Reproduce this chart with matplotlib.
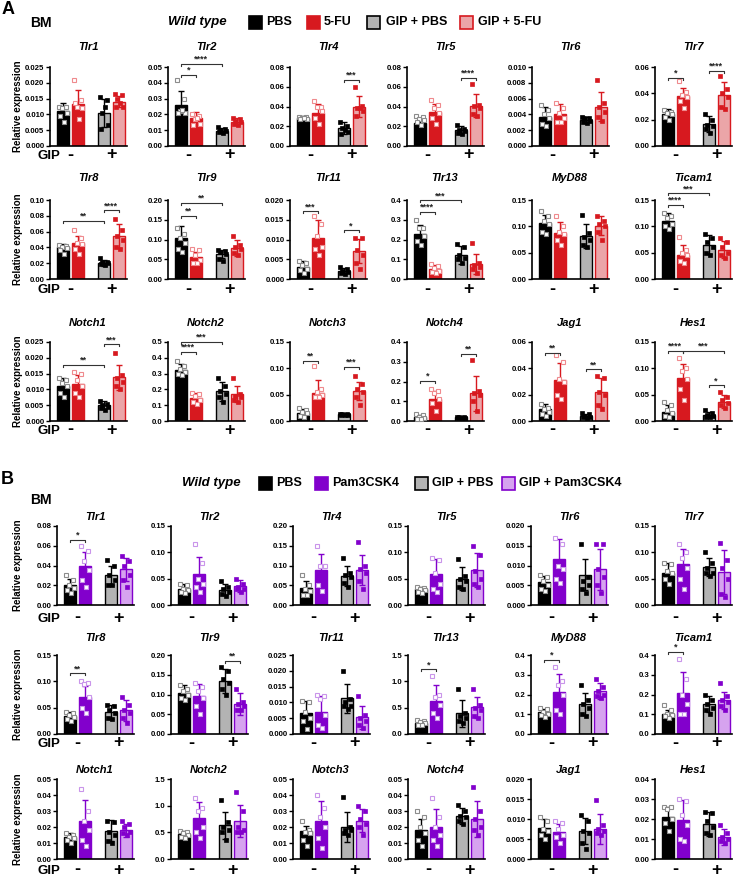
import matplotlib
matplotlib.use('Agg')
import matplotlib.pyplot as plt
from matplotlib.patches import Rectangle
import numpy as np

plt.rcParams['font.family'] = ['Liberation Sans', 'DejaVu Sans']
plt.rcParams['font.weight'] = 'bold'

genes = ['Tlr1', 'Tlr2', 'Tlr4', 'Tlr5', 'Tlr6', 'Tlr7',
         'Tlr8', 'Tlr9', 'Tlr11', 'Tlr13', 'MyD88', 'Ticam1',
         'Notch1', 'Notch2', 'Notch3', 'Notch4', 'Jag1', 'Hes1']

a_groups = ['PBS', '5-FU', 'GIP + PBS', 'GIP + 5-FU']
b_groups = ['PBS', 'Pam3CSK4', 'GIP + PBS', 'GIP + Pam3CSK4']

# ---- panel A (5-FU) ----
a_ymax = [0.025, 0.05, 0.08, 0.08, 0.010, 0.06,
          0.10, 0.20, 0.020, 0.4, 0.15, 0.15,
          0.025, 0.5, 0.15, 0.4, 0.06, 0.15]
a_step = [0.005, 0.01, 0.02, 0.02, 0.002, 0.02,
          0.02, 0.05, 0.005, 0.1, 0.05, 0.05,
          0.005, 0.1, 0.05, 0.1, 0.02, 0.05]
a_mean = [[0.011, 0.0134, 0.0105, 0.014],
          [0.026, 0.0175, 0.0098, 0.0155],
          [0.028, 0.033, 0.0185, 0.040],
          [0.0235, 0.034, 0.016, 0.041],
          [0.0037, 0.0041, 0.0033, 0.0050],
          [0.024, 0.038, 0.017, 0.0385],
          [0.040, 0.046, 0.020, 0.054],
          [0.105, 0.055, 0.063, 0.078],
          [0.0031, 0.0104, 0.0021, 0.0071],
          [0.228, 0.051, 0.122, 0.076],
          [0.106, 0.088, 0.081, 0.101],
          [0.110, 0.046, 0.065, 0.056],
          [0.011, 0.0116, 0.005, 0.0138],
          [0.323, 0.146, 0.188, 0.169],
          [0.016, 0.054, 0.0126, 0.057],
          [0.020, 0.110, 0.018, 0.140],
          [0.0088, 0.031, 0.004, 0.022],
          [0.018, 0.081, 0.012, 0.037]]
a_sd = [[0.0025, 0.0042, 0.0045, 0.0018],
        [0.0085, 0.004, 0.0015, 0.002],
        [0.002, 0.010, 0.006, 0.011],
        [0.004, 0.009, 0.004, 0.012],
        [0.0013, 0.0012, 0.0004, 0.0018],
        [0.004, 0.006, 0.006, 0.010],
        [0.004, 0.009, 0.004, 0.015],
        [0.028, 0.013, 0.010, 0.020],
        [0.0015, 0.0045, 0.0007, 0.003],
        [0.045, 0.018, 0.045, 0.05],
        [0.015, 0.02, 0.023, 0.018],
        [0.015, 0.018, 0.018, 0.016],
        [0.0025, 0.003, 0.0012, 0.004],
        [0.04, 0.03, 0.06, 0.05],
        [0.006, 0.023, 0.001, 0.018],
        [0.01, 0.04, 0.003, 0.09],
        [0.004, 0.013, 0.0015, 0.011],
        [0.013, 0.027, 0.005, 0.012]]
a_pts = [
    [[0.0125, 0.0125, 0.012, 0.0105, 0.0095, 0.0075], [0.021, 0.0145, 0.0125, 0.012, 0.0135, 0.0085],
     [0.0155, 0.0145, 0.0105, 0.0065, 0.0055, 0.0125], [0.0165, 0.016, 0.015, 0.0125, 0.0125, 0.0135]],
    [[0.042, 0.030, 0.022, 0.021, 0.021, 0.023], [0.020, 0.019, 0.017, 0.014, 0.013, 0.018],
     [0.012, 0.011, 0.010, 0.0095, 0.009, 0.008], [0.018, 0.017, 0.016, 0.015, 0.014, 0.013]],
    [[0.029, 0.029, 0.028, 0.027, 0.027, 0.028], [0.046, 0.040, 0.039, 0.035, 0.028, 0.022],
     [0.024, 0.020, 0.018, 0.014, 0.012, 0.016], [0.060, 0.041, 0.038, 0.035, 0.030, 0.038]],
    [[0.030, 0.029, 0.027, 0.026, 0.024, 0.021], [0.047, 0.042, 0.038, 0.033, 0.028, 0.022],
     [0.021, 0.017, 0.016, 0.015, 0.013, 0.012], [0.063, 0.042, 0.041, 0.038, 0.032, 0.030]],
    [[0.0052, 0.0045, 0.0041, 0.0036, 0.0028, 0.0025], [0.0055, 0.0048, 0.0042, 0.0035, 0.0031, 0.0030],
     [0.0037, 0.0036, 0.0035, 0.0032, 0.0030, 0.0029], [0.0083, 0.0055, 0.0049, 0.0043, 0.0037, 0.0032]],
    [[0.027, 0.026, 0.025, 0.024, 0.022, 0.020], [0.049, 0.041, 0.039, 0.037, 0.034, 0.029],
     [0.024, 0.020, 0.016, 0.015, 0.013, 0.010], [0.053, 0.043, 0.040, 0.037, 0.030, 0.028]],
    [[0.043, 0.042, 0.041, 0.039, 0.037, 0.032], [0.062, 0.052, 0.046, 0.044, 0.038, 0.032],
     [0.027, 0.022, 0.021, 0.020, 0.019, 0.018], [0.076, 0.062, 0.055, 0.050, 0.041, 0.038]],
    [[0.128, 0.115, 0.103, 0.090, 0.075, 0.068], [0.075, 0.073, 0.062, 0.048, 0.040, 0.040],
     [0.074, 0.070, 0.068, 0.063, 0.050, 0.045], [0.110, 0.085, 0.080, 0.075, 0.065, 0.062]],
    [[0.0045, 0.0040, 0.0035, 0.0025, 0.0022, 0.0015], [0.0160, 0.0140, 0.0110, 0.0080, 0.0075, 0.0060],
     [0.0030, 0.0025, 0.0020, 0.0018, 0.0015, 0.0013], [0.0105, 0.0103, 0.0073, 0.0060, 0.0040, 0.0025]],
    [[0.30, 0.26, 0.26, 0.22, 0.19, 0.17], [0.078, 0.065, 0.055, 0.040, 0.035, 0.030],
     [0.175, 0.160, 0.120, 0.105, 0.100, 0.080], [0.180, 0.080, 0.070, 0.060, 0.050, 0.030]],
    [[0.130, 0.120, 0.110, 0.105, 0.090, 0.085], [0.120, 0.100, 0.090, 0.085, 0.075, 0.065],
     [0.122, 0.088, 0.080, 0.075, 0.065, 0.060], [0.120, 0.110, 0.105, 0.100, 0.090, 0.075]],
    [[0.125, 0.120, 0.115, 0.105, 0.100, 0.095], [0.080, 0.055, 0.050, 0.045, 0.035, 0.030],
     [0.085, 0.078, 0.070, 0.060, 0.050, 0.045], [0.077, 0.070, 0.060, 0.050, 0.045, 0.040]],
    [[0.0135, 0.013, 0.012, 0.011, 0.009, 0.0075], [0.0155, 0.015, 0.013, 0.011, 0.009, 0.0075],
     [0.0062, 0.0055, 0.005, 0.0045, 0.004, 0.0035], [0.0215, 0.0145, 0.0135, 0.0125, 0.011, 0.010]],
    [[0.38, 0.345, 0.33, 0.31, 0.30, 0.29], [0.175, 0.170, 0.160, 0.130, 0.120, 0.110],
     [0.27, 0.22, 0.19, 0.17, 0.15, 0.12], [0.27, 0.17, 0.16, 0.15, 0.13, 0.12]],
    [[0.025, 0.020, 0.018, 0.015, 0.010, 0.008], [0.104, 0.060, 0.055, 0.050, 0.045, 0.045],
     [0.014, 0.013, 0.0125, 0.012, 0.0115, 0.011], [0.085, 0.070, 0.060, 0.055, 0.045, 0.030]],
    [[0.035, 0.030, 0.020, 0.015, 0.010, 0.008], [0.160, 0.150, 0.140, 0.110, 0.090, 0.050],
     [0.022, 0.020, 0.018, 0.016, 0.015, 0.015], [0.310, 0.150, 0.140, 0.130, 0.100, 0.050]],
    [[0.013, 0.010, 0.009, 0.007, 0.005, 0.004], [0.050, 0.045, 0.032, 0.030, 0.020, 0.017],
     [0.006, 0.005, 0.004, 0.003, 0.0028, 0.0025], [0.034, 0.033, 0.022, 0.020, 0.012, 0.009]],
    [[0.036, 0.030, 0.020, 0.015, 0.010, 0.008], [0.120, 0.100, 0.095, 0.080, 0.060, 0.040],
     [0.020, 0.015, 0.012, 0.010, 0.008, 0.007], [0.055, 0.045, 0.040, 0.035, 0.030, 0.025]],
]
a_sig = [[], [(0, 1, '*', 0.045), (0, 2, '****', 0.052)], [(2, 3, '***', 0.067)],
         [(2, 3, '****', 0.069)], [], [(0, 1, '*', 0.052), (2, 3, '****', 0.057)],
         [(0, 2, '**', 0.074), (2, 3, '****', 0.087)], [(0, 1, '**', 0.16), (0, 2, '**', 0.193)],
         [(0, 1, '***', 0.0172), (2, 3, '*', 0.0123)], [(0, 1, '****', 0.341), (0, 2, '***', 0.398)],
         [], [(0, 1, '****', 0.1405), (0, 2, '***', 0.163)],
         [(0, 2, '**', 0.0178), (2, 3, '***', 0.0243)], [(0, 1, '****', 0.439), (0, 2, '***', 0.502)],
         [(0, 1, '**', 0.114), (2, 3, '***', 0.103)], [(0, 1, '*', 0.203), (2, 3, '**', 0.341)],
         [(0, 1, '**', 0.0519), (2, 3, '**', 0.0393)],
         [(0, 1, '****', 0.133), (1, 3, '***', 0.133), (2, 3, '*', 0.068)]]

# ---- panel B (Pam3CSK4) ----
b_ymax = [0.08, 0.15, 0.20, 0.15, 0.020, 0.15,
          0.15, 0.20, 0.025, 1.5, 0.4, 0.4,
          0.05, 1.5, 0.05, 0.05, 0.020, 0.04]
b_step = [0.02, 0.05, 0.05, 0.05, 0.005, 0.05,
          0.05, 0.05, 0.005, 0.5, 0.1, 0.1,
          0.01, 0.5, 0.01, 0.01, 0.005, 0.01]
b_mean = [[0.020, 0.040, 0.030, 0.036],
          [0.031, 0.058, 0.029, 0.036],
          [0.042, 0.088, 0.074, 0.088],
          [0.030, 0.058, 0.050, 0.066],
          [0.0057, 0.0116, 0.0077, 0.009],
          [0.061, 0.077, 0.072, 0.063],
          [0.034, 0.071, 0.042, 0.045],
          [0.103, 0.096, 0.135, 0.077],
          [0.0067, 0.0071, 0.0113, 0.0053],
          [0.21, 0.63, 0.39, 0.51],
          [0.109, 0.213, 0.153, 0.217],
          [0.102, 0.21, 0.151, 0.17],
          [0.014, 0.024, 0.0176, 0.018],
          [0.47, 0.775, 0.63, 0.72],
          [0.0176, 0.024, 0.020, 0.024],
          [0.0183, 0.020, 0.027, 0.025],
          [0.0077, 0.0068, 0.007, 0.0075],
          [0.021, 0.0197, 0.0174, 0.011]]
b_sd = [[0.006, 0.014, 0.01, 0.012],
        [0.008, 0.034, 0.01, 0.012],
        [0.02, 0.04, 0.026, 0.038],
        [0.004, 0.03, 0.022, 0.032],
        [0.0017, 0.005, 0.004, 0.0053],
        [0.018, 0.03, 0.017, 0.042],
        [0.007, 0.02, 0.013, 0.02],
        [0.02, 0.03, 0.03, 0.028],
        [0.0039, 0.005, 0.0045, 0.0037],
        [0.04, 0.3, 0.25, 0.2],
        [0.02, 0.09, 0.055, 0.04],
        [0.02, 0.105, 0.04, 0.045],
        [0.002, 0.013, 0.0065, 0.004],
        [0.06, 0.3, 0.26, 0.3],
        [0.003, 0.012, 0.0095, 0.007],
        [0.007, 0.011, 0.005, 0.011],
        [0.0022, 0.002, 0.0033, 0.0037],
        [0.005, 0.01, 0.006, 0.004]]
b_pts = [
    [[0.030, 0.025, 0.020, 0.017, 0.015, 0.012], [0.060, 0.055, 0.045, 0.035, 0.025, 0.018],
     [0.046, 0.040, 0.030, 0.025, 0.020, 0.020], [0.050, 0.045, 0.040, 0.030, 0.025, 0.018]],
    [[0.040, 0.038, 0.030, 0.028, 0.025, 0.022], [0.115, 0.080, 0.050, 0.040, 0.035, 0.025],
     [0.045, 0.035, 0.030, 0.025, 0.020, 0.018], [0.050, 0.040, 0.035, 0.030, 0.030, 0.025]],
    [[0.075, 0.050, 0.040, 0.035, 0.025, 0.025], [0.150, 0.100, 0.100, 0.100, 0.050, 0.035],
     [0.120, 0.080, 0.075, 0.070, 0.055, 0.045], [0.160, 0.100, 0.090, 0.080, 0.060, 0.040]],
    [[0.035, 0.032, 0.030, 0.028, 0.025, 0.022], [0.090, 0.085, 0.060, 0.040, 0.030, 0.025],
     [0.087, 0.055, 0.050, 0.045, 0.035, 0.030], [0.112, 0.095, 0.065, 0.050, 0.040, 0.035]],
    [[0.0075, 0.0070, 0.0060, 0.0050, 0.0040, 0.0035], [0.0170, 0.0155, 0.0100, 0.0090, 0.0065, 0.0055],
     [0.0155, 0.0070, 0.0060, 0.0050, 0.0040, 0.0030], [0.0155, 0.0155, 0.0090, 0.0070, 0.0050, 0.0030]],
    [[0.080, 0.078, 0.065, 0.060, 0.050, 0.040], [0.115, 0.100, 0.090, 0.070, 0.050, 0.030],
     [0.100, 0.080, 0.070, 0.060, 0.060, 0.055], [0.117, 0.085, 0.070, 0.050, 0.020, 0.015]],
    [[0.042, 0.040, 0.036, 0.032, 0.028, 0.025], [0.100, 0.097, 0.095, 0.070, 0.050, 0.040],
     [0.055, 0.053, 0.045, 0.040, 0.030, 0.028], [0.070, 0.055, 0.045, 0.040, 0.030, 0.020]],
    [[0.125, 0.115, 0.110, 0.100, 0.090, 0.085], [0.130, 0.120, 0.110, 0.090, 0.070, 0.050],
     [0.170, 0.160, 0.140, 0.130, 0.115, 0.100], [0.115, 0.080, 0.075, 0.070, 0.060, 0.060]],
    [[0.0105, 0.0100, 0.0070, 0.0050, 0.0040, 0.0015], [0.0125, 0.0120, 0.0110, 0.0060, 0.0030, 0.0020],
     [0.0200, 0.0110, 0.0100, 0.0090, 0.0090, 0.0080], [0.0120, 0.0060, 0.0050, 0.0040, 0.0030, 0.0020]],
    [[0.27, 0.25, 0.22, 0.20, 0.18, 0.17], [1.10, 0.75, 0.70, 0.55, 0.40, 0.30],
     [0.85, 0.40, 0.35, 0.30, 0.25, 0.20], [0.86, 0.55, 0.50, 0.45, 0.35, 0.30]],
    [[0.130, 0.125, 0.110, 0.100, 0.095, 0.085], [0.340, 0.270, 0.250, 0.200, 0.120, 0.100],
     [0.250, 0.170, 0.150, 0.130, 0.100, 0.090], [0.280, 0.240, 0.220, 0.200, 0.190, 0.180]],
    [[0.145, 0.120, 0.100, 0.095, 0.090, 0.080], [0.380, 0.280, 0.200, 0.150, 0.100, 0.100],
     [0.200, 0.170, 0.150, 0.130, 0.120, 0.100], [0.260, 0.190, 0.170, 0.160, 0.140, 0.120]],
    [[0.016, 0.015, 0.014, 0.013, 0.012, 0.010], [0.044, 0.030, 0.024, 0.018, 0.012, 0.008],
     [0.024, 0.023, 0.017, 0.015, 0.011, 0.010], [0.024, 0.022, 0.020, 0.017, 0.016, 0.015]],
    [[0.53, 0.50, 0.48, 0.45, 0.42, 0.40], [1.15, 0.95, 0.90, 0.60, 0.50, 0.40],
     [1.10, 0.70, 0.60, 0.55, 0.50, 0.35], [1.25, 0.90, 0.60, 0.55, 0.50, 0.50]],
    [[0.024, 0.018, 0.017, 0.016, 0.012, 0.008], [0.040, 0.032, 0.026, 0.020, 0.013, 0.007],
     [0.039, 0.020, 0.018, 0.018, 0.016, 0.015], [0.033, 0.030, 0.025, 0.022, 0.020, 0.015]],
    [[0.030, 0.026, 0.020, 0.016, 0.012, 0.008], [0.038, 0.026, 0.020, 0.015, 0.012, 0.008],
     [0.034, 0.030, 0.027, 0.026, 0.024, 0.022], [0.045, 0.030, 0.025, 0.020, 0.018, 0.015]],
    [[0.0105, 0.0095, 0.0075, 0.0070, 0.0060, 0.0050], [0.0095, 0.0090, 0.0075, 0.0060, 0.0055, 0.0040],
     [0.0110, 0.0095, 0.0070, 0.0065, 0.0040, 0.0025], [0.0148, 0.0085, 0.0075, 0.0070, 0.0065, 0.0060]],
    [[0.026, 0.026, 0.025, 0.020, 0.018, 0.014], [0.030, 0.029, 0.022, 0.017, 0.010, 0.009],
     [0.0235, 0.023, 0.019, 0.016, 0.013, 0.012], [0.017, 0.013, 0.011, 0.010, 0.009, 0.008]],
]
b_sig = [[(0, 1, '*', 0.066)], [], [], [], [], [],
         [(0, 1, '**', 0.115)], [(2, 3, '**', 0.185)], [], [(0, 1, '*', 1.23)],
         [(0, 1, '*', 0.375)], [(0, 1, '*', 0.415)],
         [], [], [], [], [], []]

W, H = 744, 877
fig = plt.figure(figsize=(W / 100, H / 100), dpi=100)

xs = [0, 1, 2.7, 3.7]
offs = [-0.24, 0.22, -0.08, 0.26, -0.2, 0.06]


def fx(px):
    return px / W


def fy(py):
    return 1 - py / H


def draw_panel(cols, rows, title_y, gip_y, ymax, step, mean, sd, pts, sig,
               face, edge, open_edge, dot_color):
    for k, gene in enumerate(genes):
        r, c = divmod(k, 6)
        top, bot = rows[r]
        ax = fig.add_axes([fx(cols[c]), fy(bot), 77 / W, (bot - top) / H])
        for g in range(4):
            ax.bar(xs[g], mean[k][g], width=0.8, color=face[g], edgecolor=edge[g],
                   linewidth=1, zorder=2)
            ax.errorbar(xs[g], mean[k][g], yerr=sd[k][g], fmt='none', ecolor=edge[g],
                        elinewidth=1, capsize=2.5, capthick=1, zorder=3)
            px = [xs[g] + offs[i % 6] for i in range(len(pts[k][g]))]
            if g < 2:
                ax.plot(px, pts[k][g], 's', ms=3, mfc='white', mec=open_edge[g],
                        mew=0.8, zorder=4, clip_on=False)
            else:
                ax.plot(px, pts[k][g], 's', ms=2.6, mfc=dot_color[g], mec=dot_color[g],
                        mew=0.5, zorder=4, clip_on=False)
        for i, j, lab, yy in sig[k]:
            h = ymax[k] * 0.025
            ax.plot([xs[i], xs[i], xs[j], xs[j]], [yy - h, yy, yy, yy - h],
                    color='#333333', lw=0.8, clip_on=False, zorder=5)
            ax.text((xs[i] + xs[j]) / 2, yy, lab, ha='center', va='bottom',
                    fontsize=6.5, fontweight='bold', color='#222222')
        ax.set_xlim(-0.85, 4.25)
        ax.set_ylim(0, ymax[k])
        ticks = np.arange(0, ymax[k] + step[k] / 2, step[k])
        dec = int(-np.floor(np.log10(step[k])))
        ax.set_yticks(ticks)
        ax.set_yticklabels([f'{t:.{dec}f}' for t in ticks])
        ax.tick_params(axis='y', length=3, width=1, pad=1, labelsize=5.6)
        ax.set_xticks([])
        for sp in ['top', 'right']:
            ax.spines[sp].set_visible(False)
        for sp in ['left', 'bottom']:
            ax.spines[sp].set_linewidth(1.2)
        # title
        fig.text(fx(cols[c] + 38), fy(title_y[r]), gene, ha='center', va='center',
                 fontsize=8, fontweight='bold', style='italic')
        # GIP - / +
        yfrac = (bot - gip_y[r]) / (bot - top)
        ax.text(0.5, yfrac, '-', ha='center', va='center', fontsize=13,
                fontweight='bold', transform=ax.get_xaxis_transform())
        ax.text(3.2, yfrac, '+', ha='center', va='center', fontsize=13,
                fontweight='bold', transform=ax.get_xaxis_transform())
        if c == 0:
            fig.text(fx(38), fy(gip_y[r] + 1), 'GIP', ha='left', va='center',
                     fontsize=9.5, fontweight='bold')
            fig.text(fx(18), fy((top + bot) / 2), 'Relative expression', rotation=90,
                     ha='center', va='center', fontsize=7, fontweight='bold')


def legend(y, items, wt_x):
    fig.text(fx(wt_x), fy(y), 'Wild type', ha='left', va='center', fontsize=9.5,
             fontweight='bold', style='italic')
    for sx, tx, fc, ec, lab in items:
        fig.patches.append(Rectangle((fx(sx), fy(y + 6.5)), 13 / W, 13 / H,
                                     facecolor=fc, edgecolor=ec, linewidth=1.2,
                                     transform=fig.transFigure))
        fig.text(fx(tx), fy(y), lab, ha='left', va='center', fontsize=9,
                 fontweight='bold')


red = '#d7191f'
pink = '#eba5a8'
gray = '#b3b3b3'
purple = '#8200cc'
lilac = '#d6a3ef'

# panel A
fig.text(fx(2), fy(10), 'A', fontsize=13, fontweight='bold', ha='left', va='center')
fig.text(fx(30), fy(23), 'BM', fontsize=10, fontweight='bold', ha='left', va='center')
legend(22, [(249, 266, 'black', 'black', a_groups[0]),
            (307, 324, red, red, a_groups[1]),
            (367, 386, gray, 'black', a_groups[2]),
            (460, 478, pink, red, a_groups[3])], 168)
draw_panel([50, 168, 290, 407, 532, 655], [(67, 146), (200, 279), (342, 421)],
           [47, 178, 323], [155, 289, 430],
           a_ymax, a_step, a_mean, a_sd, a_pts, a_sig,
           ['black', red, gray, pink], ['black', red, 'black', red],
           ['#8c8c8c', '#ef8a8e'], [None, None, 'black', red])

# panel B
fig.text(fx(1), fy(480), 'B', fontsize=13, fontweight='bold', ha='left', va='center')
fig.text(fx(30), fy(500), 'BM', fontsize=10, fontweight='bold', ha='left', va='center')
legend(483, [(259, 276, 'black', 'black', b_groups[0]),
             (315, 332, purple, purple, b_groups[1]),
             (415, 432, gray, 'black', b_groups[2]),
             (502, 519, lilac, purple, b_groups[3])], 182)
draw_panel([57, 171, 293, 408, 531, 655], [(526, 605), (655, 734), (779, 859)],
           [517, 638, 770], [618, 743, 870],
           b_ymax, b_step, b_mean, b_sd, b_pts, b_sig,
           ['black', purple, gray, lilac], ['black', purple, 'black', purple],
           ['#8c8c8c', '#c995ea'], [None, None, 'black', purple])

fig.savefig('out.png', dpi=100)
